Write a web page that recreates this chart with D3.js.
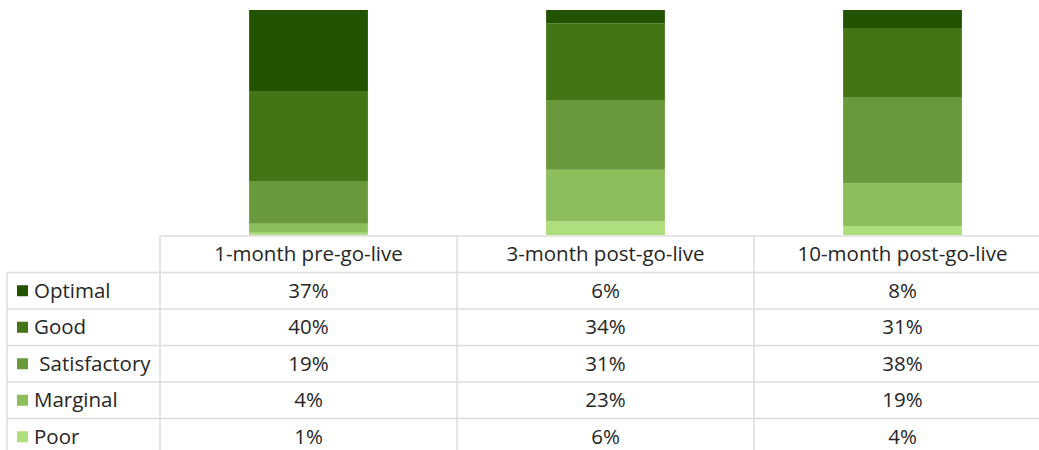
<!DOCTYPE html>
<html>
<head>
<meta charset="utf-8">
<script src="https://cdn.jsdelivr.net/npm/d3@7"></script>
<style>
  html, body { margin: 0; padding: 0; background: #fff; }
  svg { display: block; font-family: "Open Sans", "Liberation Sans", sans-serif; }
</style>
</head>
<body>
<svg id="chart" width="1039" height="450"></svg>
<script>
// Survey periods (columns) and rating levels (stack order, top to bottom)
const periods = ["1-month pre-go-live", "3-month post-go-live", "10-month post-go-live"];
const ratings = ["Optimal", "Good", "Satisfactory", "Marginal", "Poor"];
const ratingLabels = ["Optimal", "Good", " Satisfactory", "Marginal", "Poor"];
const colors = ["#215300", "#437514", "#6a993b", "#8cbe5c", "#aedf7c"];

// Percent share per rating, one array per rating, ordered by period
const optimal      = [37, 6, 8];
const good         = [40, 34, 31];
const satisfactory = [19, 31, 38];
const marginal     = [4, 23, 19];
const poor         = [1, 6, 4];

const seriesValues = [optimal, good, satisfactory, marginal, poor];

const rows = periods.map((p, i) => {
  const r = { period: p };
  ratings.forEach((k, j) => { r[k] = seriesValues[j][i]; });
  return r;
});

const svg = d3.select("#chart");

const tableLeft = 160, colWidth = 297;
const plotTop = 10, plotBottom = 235;

const x = d3.scaleBand()
  .domain(periods)
  .range([tableLeft, tableLeft + colWidth * periods.length])
  .paddingInner(0)
  .paddingOuter(0);

const y = d3.scaleLinear().domain([0, 100]).range([plotBottom, plotTop]);

// Stack from the bottom: Poor first, Optimal last
const stack = d3.stack().keys(ratings.slice().reverse());
const stacked = stack(rows);

svg.append("defs").append("clipPath").attr("id", "plotClip")
  .append("rect")
  .attr("x", tableLeft).attr("y", plotTop)
  .attr("width", colWidth * periods.length).attr("height", plotBottom - plotTop);

const barWidth = x.bandwidth() * 0.4;
const plot = svg.append("g").attr("clip-path", "url(#plotClip)");

plot.selectAll("g.layer")
  .data(stacked)
  .join("g")
  .attr("class", "layer")
  .attr("fill", d => colors[ratings.indexOf(d.key)])
  .selectAll("rect")
  .data(d => d)
  .join("rect")
  .attr("x", d => x(d.data.period) + (x.bandwidth() - barWidth) / 2)
  .attr("width", barWidth)
  .attr("y", d => y(d[1]))
  .attr("height", d => y(d[0]) - y(d[1]));

// Data table under the bars
const headerTop = 236;
const rowH = 36.5;
const lineColor = "#dcdcdc";
const tableRight = 1039;
const table = svg.append("g");

// horizontal rules
const hLines = d3.range(ratings.length + 1).map(i => headerTop + rowH * i);
table.selectAll("line.h")
  .data(hLines)
  .join("line")
  .attr("x1", (d, i) => i === 0 ? tableLeft : 7)
  .attr("x2", tableRight)
  .attr("y1", d => d).attr("y2", d => d)
  .attr("stroke", lineColor).attr("stroke-width", 1.5);

// vertical rules
const vLines = [
  { x: 7, y1: headerTop + rowH },
  ...periods.map(p => ({ x: x(p), y1: headerTop }))
];
table.selectAll("line.v")
  .data(vLines)
  .join("line")
  .attr("x1", d => d.x).attr("x2", d => d.x)
  .attr("y1", d => d.y1).attr("y2", 450)
  .attr("stroke", lineColor).attr("stroke-width", 1.5);

const fontSize = 20.5;
const textColor = "#262626";

// column headers
table.selectAll("text.head")
  .data(periods)
  .join("text")
  .attr("x", d => x(d) + x.bandwidth() / 2)
  .attr("y", headerTop + rowH / 2)
  .attr("dy", "0.35em")
  .attr("text-anchor", "middle")
  .attr("font-size", fontSize)
  .attr("fill", textColor)
  .text(d => d);

// row legend keys and labels
const rowG = table.selectAll("g.row")
  .data(ratings)
  .join("g")
  .attr("transform", (d, i) => `translate(0,${headerTop + rowH * (i + 1) + rowH / 2})`);

rowG.append("rect")
  .attr("x", 17).attr("y", -5.5)
  .attr("width", 11).attr("height", 11)
  .attr("fill", (d, i) => colors[i]);

rowG.append("text")
  .attr("x", 34)
  .attr("dy", "0.35em")
  .attr("font-size", fontSize)
  .attr("fill", textColor)
  .style("white-space", "pre")
  .text((d, i) => ratingLabels[i]);

// cell values
rowG.selectAll("text.val")
  .data((d, i) => seriesValues[i].map((v, j) => ({ v, period: periods[j] })))
  .join("text")
  .attr("x", d => x(d.period) + x.bandwidth() / 2)
  .attr("dy", "0.35em")
  .attr("text-anchor", "middle")
  .attr("font-size", fontSize)
  .attr("fill", textColor)
  .text(d => d.v + "%");
</script>
</body>
</html>
